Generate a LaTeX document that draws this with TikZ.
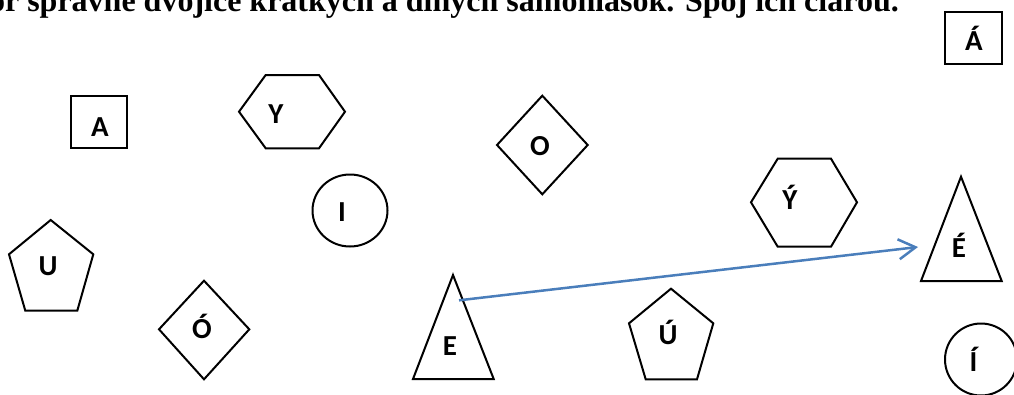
\documentclass[tikz,border=0pt]{standalone}
\usepackage{fontspec}
\setmainfont{Liberation Serif}
\newfontfamily\labelfont{Carlito}
\usetikzlibrary{arrows.meta}
\definecolor{arrowblue}{RGB}{74,126,187}
\tikzset{
  shapeline/.style={draw=black, line width=2pt, line join=miter},
  letter/.style={font=\labelfont\bfseries\fontsize{29}{33}\selectfont, anchor=base, inner sep=0pt},
  title/.style={font=\bfseries\fontsize{32}{36}\selectfont, anchor=base east, inner sep=0pt},
  pairline/.style={draw=arrowblue, line width=2.5pt, -{Straight Barb[length=17pt,width=20pt]}}
}
\begin{document}
\begin{tikzpicture}[x=1pt,y=-1pt]
\useasboundingbox (0,0) rectangle (1014,394);
\clip (0,0) rectangle (1014,394);
% title (cut off at the top)
\node[title] (title) at (899,11.5) {Utvor správne dvojice krátkych a dlhých samohlások. Spoj ich čiarou.};
% squares
\draw[shapeline] (71,96) rectangle (127,148);
\node[letter] (A) at (100,136) {A};
\draw[shapeline] (945,12) rectangle (1002,64);
\node[letter] (Aa) at (974,50.7) {Á};
% hexagons
\draw[shapeline] (239,111.7) -- (265.7,75) -- (319,75) -- (345,111.7) -- (319,148.3) -- (265.7,148.3) -- cycle;
\node[letter] (Y) at (276,123.3) {Y};
\draw[shapeline] (751,202.3) -- (777.7,158.7) -- (831,158.7) -- (857,202.3) -- (831,246.7) -- (777.7,246.7) -- cycle;
\node[letter] (Ya) at (790,209) {Ý};
% circles
\draw[shapeline] (350,210.5) ellipse [x radius=37.5, y radius=36];
\node[letter] (I) at (342,221) {I};
\draw[shapeline] (981,359.5) ellipse [x radius=36, y radius=36];
\node[letter] (Ia) at (973.5,371) {Í};
% pentagons
\draw[shapeline] (50.7,220) -- (93.3,254.3) -- (77.3,310.7) -- (25.3,310.7) -- (9,254.3) -- cycle;
\node[letter] (U) at (48,275) {U};
\draw[shapeline] (671,288.7) -- (713.3,323.3) -- (697,379.3) -- (645.7,379.3) -- (629,323.3) -- cycle;
\node[letter] (Ua) at (668,344.3) {Ú};
% diamonds
\draw[shapeline] (204,280.7) -- (249.3,329.3) -- (204,379.3) -- (159,329.3) -- cycle;
\node[letter] (Oa) at (202,338) {Ó};
\draw[shapeline] (542.3,95.7) -- (587.7,145) -- (542.3,194.3) -- (497,145) -- cycle;
\node[letter] (O) at (540,155) {O};
% triangles
\draw[shapeline] (453,275) -- (493.7,379) -- (413,379) -- cycle;
\node[letter] (E) at (450,355.7) {E};
\draw[shapeline] (961,176.7) -- (1001.7,281) -- (921,281) -- cycle;
\node[letter] (Ea) at (959,257.3) {É};
% connector
\coordinate (Estart) at (459,300.3);
\coordinate (Eatip) at (918,247);
\draw[pairline] (Estart) -- (Eatip);
\end{tikzpicture}
\end{document}
